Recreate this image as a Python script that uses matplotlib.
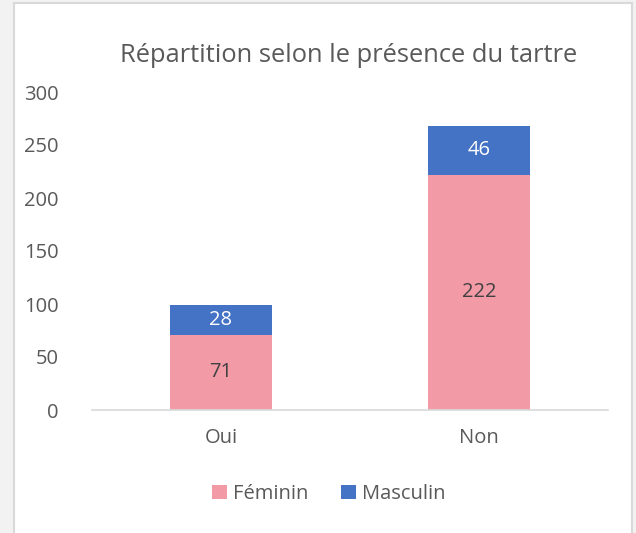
import matplotlib
matplotlib.use("Agg")
import matplotlib.pyplot as plt
from matplotlib.patches import Rectangle

categories = ["Oui", "Non"]
feminin = [71, 222]
masculin = [28, 46]
title = "Répartition selon le présence du tartre"
yticks = [0, 50, 100, 150, 200, 250, 300]

plt.rcParams['font.family'] = ['Open Sans', 'DejaVu Sans']

W, H = 636, 533
fig = plt.figure(figsize=(W / 100, H / 100), dpi=100)
fig.patch.set_facecolor("#F2F2F2")
# white chart area with light border
fig.patches.append(Rectangle((14 / W, -0.01), (632 - 14) / W, (H - 3) / H + 0.01,
                             transform=fig.transFigure, facecolor="white",
                             edgecolor="#D9D9D9", linewidth=1.5, zorder=-5))

ax = fig.add_axes([92 / W, (H - 410) / H, (608 - 92) / W, (410 - 92) / H])
ax.set_zorder(2)
ax.set_facecolor("none")
pink = "#F29BA7"
blue = "#4472C4"
x = list(range(len(categories)))
width = 0.395
b1 = ax.bar(x, feminin, width, color=pink, label="Féminin", zorder=2)
b2 = ax.bar(x, masculin, width, bottom=feminin, color=blue, label="Masculin", zorder=2)

for xi, f, m in zip(x, feminin, masculin):
    ax.text(xi, f / 2, str(f), ha="center", va="center", fontsize=14.5, color="#404040", zorder=3)
    ax.text(xi, f + m / 2, str(m), ha="center", va="center", fontsize=14.5, color="white", zorder=3)

ax.set_xlim(-0.5, 1.5)
ax.set_ylim(0, 300)
ax.set_yticks(yticks)
ax.set_xticks(x)
ax.set_xticklabels(categories)
for s in ["top", "right", "left"]:
    ax.spines[s].set_visible(False)
ax.spines["bottom"].set_color("#D9D9D9")
ax.spines["bottom"].set_linewidth(1.2)
ax.tick_params(axis="both", length=0, labelsize=14.5, labelcolor="#595959")
ax.tick_params(axis="y", pad=24)
ax.tick_params(axis="x", pad=13)

fig.text(349 / W, 1 - 56 / H, title, ha="center", va="center", fontsize=18.4, color="#595959")

leg = fig.legend(handles=[b1, b2], loc="center", bbox_to_anchor=(329 / W, 1 - 494 / H),
                 ncol=2, frameon=False, fontsize=14.5, handlelength=0.75, handleheight=0.75,
                 handletextpad=0.3, columnspacing=1.6)
for t in leg.get_texts():
    t.set_color("#595959")

fig.savefig("out.png", dpi=100)
